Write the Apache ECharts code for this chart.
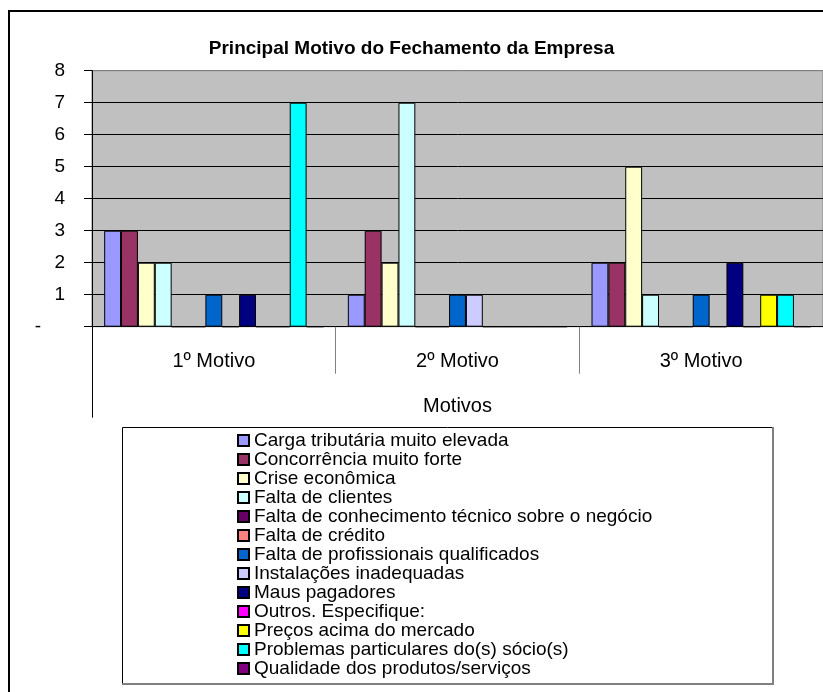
<!DOCTYPE html>
<html>
<head>
<meta charset="utf-8">
<script src="https://cdn.jsdelivr.net/npm/echarts@6/dist/echarts.min.js"></script>
<style>
  html, body { margin: 0; padding: 0; background: #fff; }
  #chart { width: 823px; height: 692px; }
</style>
</head>
<body>
<div id="chart"></div>
<script>
// categorias (eixo x)
var categorias = ['1º Motivo', '2º Motivo', '3º Motivo'];
var yTicks = [0, 1, 2, 3, 4, 5, 6, 7, 8];

// uma lista por motivo, na ordem da legenda
var cargaTributaria = [3, 1, 2];
var concorrencia = [3, 3, 2];
var criseEconomica = [2, 2, 5];
var faltaClientes = [2, 7, 1];
var faltaConhecimento = [0, 0, 0];
var faltaCredito = [0, 0, 0];
var faltaProfissionais = [1, 1, 1];
var instalacoes = [0, 1, 0];
var mausPagadores = [1, 0, 2];
var outros = [0, 0, 0];
var precosAcima = [0, 0, 1];
var problemasSocios = [7, 0, 1];
var qualidade = [0, 0, 0];

var nomes = [
  'Carga tributária muito elevada',
  'Concorrência muito forte',
  'Crise econômica',
  'Falta de clientes',
  'Falta de conhecimento técnico sobre o negócio',
  'Falta de crédito',
  'Falta de profissionais qualificados',
  'Instalações inadequadas',
  'Maus pagadores',
  'Outros. Especifique:',
  'Preços acima do mercado',
  'Problemas particulares do(s) sócio(s)',
  'Qualidade dos produtos/serviços'
];
var valores = [cargaTributaria, concorrencia, criseEconomica, faltaClientes,
  faltaConhecimento, faltaCredito, faltaProfissionais, instalacoes,
  mausPagadores, outros, precosAcima, problemasSocios, qualidade];
var cores = ['#9999FF', '#993366', '#FFFFCC', '#CCFFFF', '#660066', '#FF8080',
  '#0066CC', '#CCCCFF', '#000080', '#FF00FF', '#FFFF00', '#00FFFF', '#800080'];

var fonte = '"Liberation Sans", Arial, sans-serif';

var series = nomes.map(function (nome, i) {
  return {
    name: nome,
    type: 'bar',
    data: valores[i],
    barGap: '0%',
    barCategoryGap: '10%',
    itemStyle: { color: cores[i], borderColor: '#000', borderWidth: 1 }
  };
});

var chart = echarts.init(document.getElementById('chart'));
var option = {
  animation: false,
  backgroundColor: '#fff',
  textStyle: { fontFamily: fonte },
  title: {
    text: 'Principal Motivo do Fechamento da Empresa',
    left: 'center',
    top: 34,
    textStyle: { fontFamily: fonte, fontSize: 19, fontWeight: 'bold', color: '#000', lineHeight: 20 }
  },
  grid: {
    left: 92, right: 0, top: 70.7, bottom: 365.3,
    show: true, backgroundColor: '#C0C0C0', borderColor: '#808080', borderWidth: 1
  },
  legend: {
    orient: 'vertical',
    left: 237,
    top: 431,
    padding: 0,
    itemGap: 0,
    itemWidth: 11,
    itemHeight: 11,
    icon: 'rect',
    selectedMode: false,
    textStyle: { fontFamily: fonte, fontSize: 19, color: '#000', lineHeight: 19 },
    data: nomes
  },
  xAxis: [{
    type: 'category',
    data: categorias,
    position: 'bottom',
    axisLine: { lineStyle: { color: '#000', width: 1 } },
    axisTick: { show: true, length: 47, lineStyle: { color: '#808080' } },
    axisLabel: { margin: 25, fontSize: 20, color: '#000', lineHeight: 20, fontFamily: fonte }
  }, {
    type: 'category',
    data: ['Motivos'],
    position: 'bottom',
    axisLine: { show: false },
    axisTick: { show: true, length: 91, lineStyle: { color: '#000' } },
    axisLabel: { margin: 70, fontSize: 20, color: '#000', lineHeight: 20, fontFamily: fonte }
  }],
  yAxis: {
    type: 'value',
    min: yTicks[0],
    max: yTicks[yTicks.length - 1],
    interval: 1,
    axisLine: { show: true, lineStyle: { color: '#000', width: 1 } },
    axisTick: { show: true, length: 8, lineStyle: { color: '#000' } },
    axisLabel: {
      margin: 27,
      fontSize: 19,
      color: '#000',
      fontFamily: fonte,
      formatter: function (v) { return v === 0 ? '{d|-}' : String(v); },
      rich: { d: { fontSize: 19, fontFamily: fonte, color: '#000', padding: [0, 24, 0, 0] } }
    },
    splitLine: {
      show: true,
      lineStyle: { color: ['#000', '#000', '#000', '#000', '#000', '#000', '#000', '#000', '#808080'], width: 1 }
    }
  },
  graphic: [
    { type: 'rect', z: -1, shape: { x: 9, y: 11, width: 900, height: 800 },
      style: { fill: 'none', stroke: '#000', lineWidth: 2 } },
    { type: 'rect', z: 0, shape: { x: 122.5, y: 427.5, width: 650, height: 256 },
      style: { fill: '#fff', stroke: '#000', lineWidth: 1 } },
    { type: 'polyline', z: 0, shape: { points: [[773, 427], [773, 684], [122, 684]] },
      style: { fill: 'none', stroke: '#808080', lineWidth: 2 } }
  ],
  series: series
};
chart.setOption(option);
</script>
</body>
</html>
